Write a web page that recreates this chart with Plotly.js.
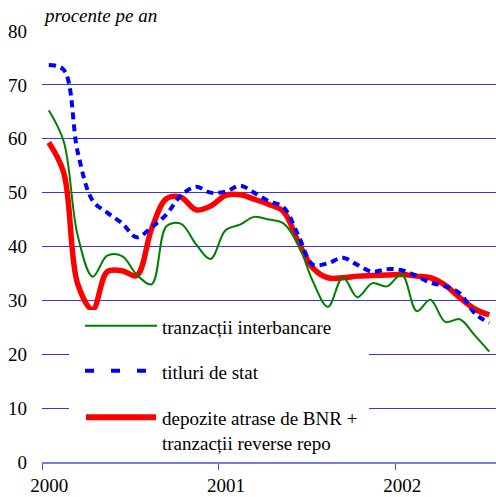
<!DOCTYPE html>
<html>
<head>
<meta charset="utf-8">
<script src="https://cdn.plot.ly/plotly-3.0.1.min.js"></script>
<style>html,body{margin:0;padding:0;background:#fff;}</style>
</head>
<body>
<div id="chart" style="width:496px;height:497px;"></div>
<script>
// Monthly observations, Jan 2000 - Jul 2002 (mid-month)
const months = [
  '2000-01-15','2000-02-15','2000-03-15','2000-04-15','2000-05-15','2000-06-15',
  '2000-07-15','2000-08-15','2000-09-15','2000-10-15','2000-11-15','2000-12-15',
  '2001-01-15','2001-02-15','2001-03-15','2001-04-15','2001-05-15','2001-06-15',
  '2001-07-15','2001-08-15','2001-09-15','2001-10-15','2001-11-15','2001-12-15',
  '2002-01-15','2002-02-15','2002-03-15','2002-04-15','2002-05-15','2002-06-15',
  '2002-07-15'
];
const interbancare = [65.3, 59.5, 42.0, 34.4, 38.3, 38.2, 34.8, 33.0, 43.8, 44.2, 40.4, 37.7,
                      43.0, 44.1, 45.5, 45.0, 44.3, 40.3, 33.5, 28.8, 34.3, 30.6, 33.2, 32.6,
                      34.8, 28.0, 30.1, 26.0, 26.5, 23.5, 20.5];
const titluri = [73.7, 72.8, 57.5, 48.5, 46.3, 44.3, 41.7, 43.6, 46.0, 49.5, 51.1, 50.0,
                 50.2, 51.3, 50.0, 48.4, 47.3, 42.0, 36.6, 36.9, 37.9, 36.6, 35.3, 35.8,
                 35.6, 34.5, 33.3, 32.6, 31.3, 27.6, 25.8];
const depozite = [59.3, 53.7, 33.0, 28.3, 35.3, 35.5, 34.6, 43.3, 48.9, 49.1, 46.8, 47.5,
                  49.5, 49.6, 48.8, 47.8, 46.5, 40.8, 36.0, 34.2, 34.2, 34.5, 34.6, 34.7,
                  34.8, 34.5, 34.2, 32.8, 30.5, 28.4, 27.3];
const names = ['tranzacții interbancare', 'titluri de stat', 'depozite atrase de BNR +<br>tranzacții reverse repo'];
const yearLabels = ['2000', '2001', '2002'];
const yearLabelPos = ['2000-01-16', '2001-01-16', '2002-01-16'];
const yearTickPos = ['2000-01-01', '2001-01-01', '2002-01-01'];
const yTicks = [0, 10, 20, 30, 40, 50, 60, 70, 80];

const FONT = 'Liberation Serif, Tinos, DejaVu Serif, Times New Roman, serif';
const W = 496, H = 497, ML = 42, MR = 0, MT = 31, MB = 35;
const PW = W - ML - MR, PH = H - MT - MB;
const px = v => (v - ML) / PW;
const py = v => (H - MB - v) / PH;

const traces = [
  {x: months, y: depozite, name: names[2], type: 'scatter', mode: 'lines',
   line: {color: '#ff0000', width: 5.5, shape: 'spline', smoothing: 1}},
  {x: months, y: titluri, name: names[1], type: 'scatter', mode: 'lines',
   line: {color: '#0000ff', width: 4, dash: '7px,5px', shape: 'spline', smoothing: 1}},
  {x: months, y: interbancare, name: names[0], type: 'scatter', mode: 'lines',
   line: {color: '#008000', width: 2, shape: 'spline', smoothing: 1}}
];

const layout = {
  width: W, height: H,
  margin: {l: ML, r: MR, t: MT, b: MB, pad: 0},
  paper_bgcolor: '#ffffff', plot_bgcolor: '#ffffff',
  showlegend: false,
  font: {family: FONT, size: 19, color: '#000000'},
  title: {text: '<i>procente pe an</i>', x: 45 / W, xanchor: 'left', xref: 'container',
          y: 1 - 15 / H, yanchor: 'middle', yref: 'container',
          font: {family: FONT, size: 19, color: '#000000'}},
  xaxis: {
    type: 'date', range: ['2000-01-01', '2002-07-29'],
    tickmode: 'array', tickvals: yearLabelPos, ticktext: yearLabels,
    ticks: '', showgrid: false, zeroline: false,
    showline: true, linecolor: '#7878ee', linewidth: 2,
    tickfont: {family: FONT, size: 19, color: '#000000'},
    ticklabelstandoff: 5,
    minor: {tickmode: 'array', tickvals: yearTickPos, ticks: 'outside', ticklen: 6,
            tickwidth: 1, tickcolor: '#4a4ae6', showgrid: false}
  },
  yaxis: {
    range: [0, 80], tickmode: 'array', tickvals: yTicks,
    showgrid: true, gridcolor: '#3838dc', gridwidth: 1,
    zeroline: false, showline: false, ticks: '',
    ticklabelstandoff: 14,
    tickfont: {family: FONT, size: 19, color: '#000000'}
  },
  shapes: [
    {type: 'rect', xref: 'paper', yref: 'paper', x0: px(69), x1: px(369), y0: py(452), y1: py(310),
     fillcolor: '#ffffff', line: {width: 0}, layer: 'above'},
    {type: 'line', xref: 'paper', yref: 'paper', x0: px(85), x1: px(157), y0: py(325.7), y1: py(325.7),
     line: {color: '#008000', width: 2}},
    {type: 'line', xref: 'paper', yref: 'paper', x0: px(85), x1: px(148), y0: py(370.7), y1: py(370.7),
     line: {color: '#0000ff', width: 4, dash: '9px,17px'}},
    {type: 'line', xref: 'paper', yref: 'paper', x0: px(86), x1: px(156), y0: py(417.3), y1: py(417.3),
     line: {color: '#ff0000', width: 6}}
  ],
  annotations: [
    {xref: 'paper', yref: 'paper', x: px(160), y: py(327), xanchor: 'left', yanchor: 'middle',
     text: names[0], showarrow: false, align: 'left', font: {family: FONT, size: 19, color: '#000000'}},
    {xref: 'paper', yref: 'paper', x: px(160), y: py(372), xanchor: 'left', yanchor: 'middle',
     text: names[1], showarrow: false, align: 'left', font: {family: FONT, size: 19, color: '#000000'}},
    {xref: 'paper', yref: 'paper', x: px(160), y: py(431), xanchor: 'left', yanchor: 'middle',
     text: names[2], showarrow: false, align: 'left', font: {family: FONT, size: 19, color: '#000000'}}
  ]
};

Plotly.newPlot('chart', traces, layout, {staticPlot: true, displayModeBar: false});
</script>
</body>
</html>
